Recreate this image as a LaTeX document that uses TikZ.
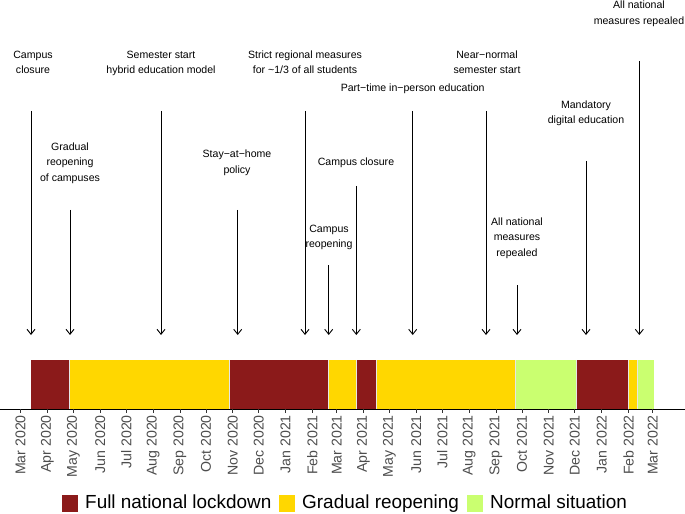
\documentclass[tikz,border=0pt]{standalone}
\usepackage{fontspec}
\setmainfont{Liberation Sans}
\usetikzlibrary{arrows.meta}
\definecolor{lockred}{HTML}{8B1A1A}
\definecolor{reopenyellow}{HTML}{FFD700}
\definecolor{normalgreen}{HTML}{CAFF70}
\definecolor{ticklabel}{HTML}{4D4D4D}
\definecolor{tickmark}{HTML}{333333}
\definecolor{sepline}{HTML}{E6E6E6}
\begin{document}
\begin{tikzpicture}[x=1bp,y=-1bp,
  evlabel/.style={font=\fontsize{10.6}{15.5}\selectfont, align=center, inner sep=0, anchor=north},
  evarrow/.style={line width=0.9bp, -{Straight Barb[length=5bp,width=8bp]}},
  monthlabel/.style={rotate=90, anchor=east, inner sep=0, text=ticklabel, font=\fontsize{14.2}{16}\selectfont},
  legkey/.style={inner sep=0, minimum width=16bp, minimum height=17bp},
  legtext/.style={anchor=base west, inner sep=0, font=\fontsize{19}{22}\selectfont}]
\useasboundingbox (0,0) rectangle (685,514);

% status bar segments
\foreach \a/\b/\c in {31/69/lockred, 69/229.5/reopenyellow, 229.5/328/lockred, 328/356.2/reopenyellow,
  356.2/376.3/lockred, 376.3/515.7/reopenyellow, 515.7/576.7/normalgreen, 576.7/628.7/lockred,
  628.7/637.7/reopenyellow, 637.7/654/normalgreen}
  \fill[\c] (\a,360) rectangle (\b,409);
\foreach \s in {69,229.5,328,356.2,376.3,515.7,576.7,628.7,637.7}
  \draw[sepline, line width=0.7bp] (\s,360) -- (\s,409);

% axis
\coordinate (axL) at (0,409);
\coordinate (axR) at (685,409);
\draw[line width=1bp] (axL) -- (axR);

% month ticks and labels
\foreach \i/\d/\m in {0/0/Mar 2020, 1/31/Apr 2020, 2/61/May 2020, 3/92/Jun 2020, 4/122/Jul 2020,
  5/153/Aug 2020, 6/184/Sep 2020, 7/214/Oct 2020, 8/245/Nov 2020, 9/275/Dec 2020, 10/306/Jan 2021,
  11/337/Feb 2021, 12/365/Mar 2021, 13/396/Apr 2021, 14/426/May 2021, 15/457/Jun 2021, 16/487/Jul 2021,
  17/518/Aug 2021, 18/549/Sep 2021, 19/579/Oct 2021, 20/610/Nov 2021, 21/640/Dec 2021, 22/671/Jan 2022,
  23/702/Feb 2022, 24/730/Mar 2022} {
  \pgfmathsetmacro{\xx}{20.6+0.8659*\d}
  \coordinate (tk\i) at (\xx,409);
  \coordinate (tke\i) at (\xx,412.8);
  \draw[tickmark, line width=0.8bp] (tk\i) -- (tke\i);
  \node[monthlabel] (ml\i) at (\xx,415) {\m};
}

% event arrows
\foreach \i/\x/\t in {1/31/111, 2/70/210, 3/161/111, 4/237.7/210, 5/305/111, 6/328.7/265,
  7/356.3/186, 8/412.7/111, 9/486/111, 10/517/285, 11/586/161, 12/639.3/61} {
  \coordinate (top\i) at (\x,\t);
  \coordinate (tip\i) at (\x,335);
  \draw[evarrow] (top\i) -- (tip\i);
}

% event labels
\node[evlabel] (ev1) at (33,50.5) {Campus\\closure};
\node[evlabel] (ev2) at (70,142.5) {Gradual\\reopening\\of campuses};
\node[evlabel] (ev3) at (161,50.5) {Semester start\\hybrid education model};
\node[evlabel] (ev4) at (237,150) {Stay−at−home\\policy};
\node[evlabel] (ev5) at (305,50.5) {Strict regional measures\\for \textasciitilde1/3 of all students};
\node[evlabel] (ev6) at (329,224.5) {Campus\\reopening};
\node[evlabel] (ev7) at (356,157.5) {Campus closure};
\node[evlabel] (ev8) at (412.7,83.5) {Part−time in−person education};
\node[evlabel] (ev9) at (487,50.5) {Near−normal\\semester start};
\node[evlabel] (ev10) at (517,217.5) {All national\\measures\\repealed};
\node[evlabel] (ev11) at (586,100.5) {Mandatory\\digital education};
\node[evlabel] (ev12) at (639,1) {All national\\measures repealed};

% legend
\node[legkey, fill=lockred] (k1) at (69.5,503.5) {};
\node[legtext] (l1) at (85,508.3) {Full national lockdown};
\node[legkey, fill=reopenyellow] (k2) at (287,503.5) {};
\node[legtext] (l2) at (302,508.3) {Gradual reopening};
\node[legkey, fill=normalgreen] (k3) at (475,503.5) {};
\node[legtext] (l3) at (490,508.3) {Normal situation};
\end{tikzpicture}
\end{document}
